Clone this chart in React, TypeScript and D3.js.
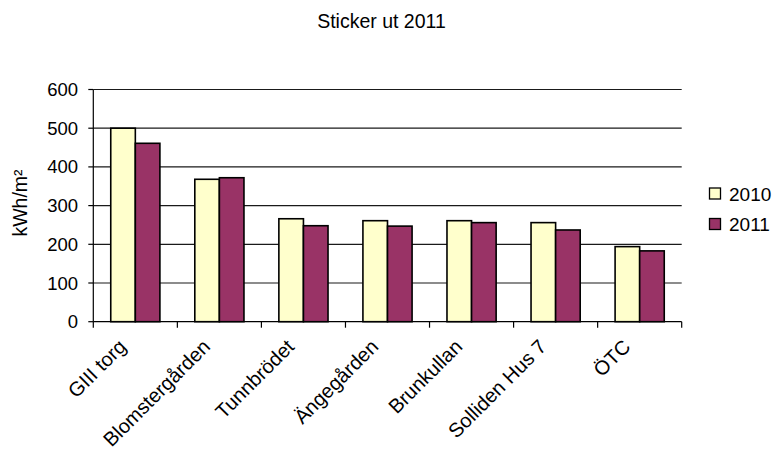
import React from "react";
import * as d3 from "d3";

const categories = [
  "GIII torg",
  "Blomstergården",
  "Tunnbrödet",
  "Ängegården",
  "Brunkullan",
  "Solliden Hus 7",
  "ÖTC",
];
const seriesNames = ["2010", "2011"];
const values2010 = [500, 368, 266, 261, 261, 256, 194];
const values2011 = [461, 372, 248, 247, 256, 237, 183];
const yTicks = [0, 100, 200, 300, 400, 500, 600];
const colors = ["#FFFFCC", "#993366"];

const W = 776;
const H = 453;
const plot = { left: 93.3, right: 681.7, top: 89.5, bottom: 321.7 };
const FONT = "'Liberation Sans', Arial, Helvetica, sans-serif";

export default function App() {
  const x = d3
    .scaleBand<string>()
    .domain(categories)
    .range([plot.left, plot.right])
    .paddingInner(0)
    .paddingOuter(0);
  const inner = d3
    .scaleBand<string>()
    .domain(seriesNames)
    .range([0, x.bandwidth()])
    .paddingInner(0)
    .paddingOuter(0.71);
  const y = d3.scaleLinear().domain([0, 600]).range([plot.bottom, plot.top]);

  const series = [values2010, values2011];
  const boundaries = d3.range(categories.length + 1).map((i) => plot.left + i * x.bandwidth());

  return (
    <svg
      width={W}
      height={H}
      style={{ position: "absolute", left: 0, top: 0, background: "#fff" }}
      fontFamily={FONT}
    >
      <text x={381.5} y={28} textAnchor="middle" fontSize={19.5} fill="#000">
        Sticker ut 2011
      </text>

      {/* horizontal gridlines */}
      {yTicks.slice(1).map((t) => (
        <line
          key={t}
          x1={plot.left}
          x2={plot.right}
          y1={y(t)}
          y2={y(t)}
          stroke="#1a1a1a"
          strokeWidth={1.2}
        />
      ))}

      {/* bars */}
      {categories.map((c, i) => (
        <g key={c}>
          {series.map((vals, s) => (
            <rect
              key={s}
              x={(x(c) as number) + (inner(seriesNames[s]) as number)}
              y={y(vals[i])}
              width={inner.bandwidth()}
              height={y(0) - y(vals[i])}
              fill={colors[s]}
              stroke="#000"
              strokeWidth={1.6}
            />
          ))}
        </g>
      ))}

      {/* y axis */}
      <line x1={plot.left} x2={plot.left} y1={plot.top} y2={plot.bottom} stroke="#000" strokeWidth={1.2} />
      {yTicks.map((t) => (
        <g key={t}>
          <line x1={plot.left - 5} x2={plot.left} y1={y(t)} y2={y(t)} stroke="#000" strokeWidth={1.2} />
          <text x={78} y={y(t) + 6.5} textAnchor="end" fontSize={18.5} fill="#000">
            {t}
          </text>
        </g>
      ))}

      {/* x axis */}
      <line x1={plot.left} x2={plot.right} y1={plot.bottom} y2={plot.bottom} stroke="#000" strokeWidth={1.2} />
      {boundaries.map((bx, i) => (
        <line key={i} x1={bx} x2={bx} y1={plot.bottom} y2={plot.bottom + 6} stroke="#000" strokeWidth={1.2} />
      ))}
      {categories.map((c) => (
        <text
          key={c}
          transform={`translate(${(x(c) as number) + x.bandwidth() / 2 - 8},348) rotate(-45)`}
          textAnchor="end"
          fontSize={20}
          fill="#000"
        >
          {c}
        </text>
      ))}

      {/* y axis title */}
      <text
        transform={`translate(27,203) rotate(-90)`}
        textAnchor="middle"
        fontSize={19.5}
        fill="#000"
      >
        kWh/m²
      </text>

      {/* legend */}
      {seriesNames.map((n, i) => (
        <g key={n} transform={`translate(709.5,${188 + i * 30.5})`}>
          <rect x={0} y={0} width={11} height={11} fill={colors[i]} stroke="#000" strokeWidth={1.3} />
          <text x={19.5} y={12.5} fontSize={19} fill="#000">
            {n}
          </text>
        </g>
      ))}
    </svg>
  );
}
